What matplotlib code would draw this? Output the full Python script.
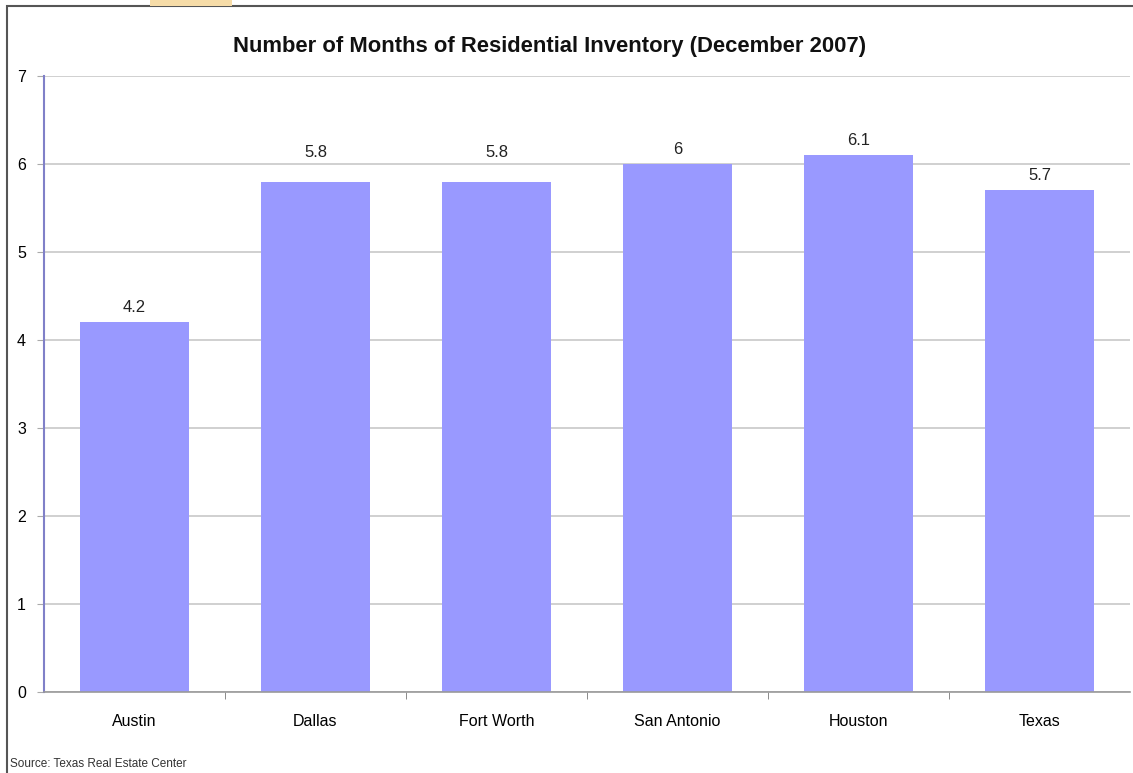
import matplotlib
matplotlib.use("Agg")
import matplotlib.pyplot as plt
from matplotlib.patches import Rectangle
import numpy as np

cities = ["Austin", "Dallas", "Fort Worth", "San Antonio", "Houston", "Texas"]
months = [4.2, 5.8, 5.8, 6, 6.1, 5.7]
value_labels = ["4.2", "5.8", "5.8", "6", "6.1", "5.7"]

plt.rcParams["font.family"] = ["Liberation Sans", "DejaVu Sans"]

fig = plt.figure(figsize=(11.33, 7.73), dpi=100)
ax = fig.add_axes([0.0388, 0.1048, 0.9586, 0.7969])

x = np.arange(len(cities))
ax.bar(x, months, width=0.6, color="#9999ff", zorder=2)

# the original sheet put the Dallas / Fort Worth labels a bit higher
label_gap = [0.08, 0.25, 0.25, 0.08, 0.08, 0.08]
for xi, val, lab, gap in zip(x, months, value_labels, label_gap):
    ax.text(xi, val + gap, lab, ha="center", va="bottom", fontsize=12, color="#222222")

ax.set_xlim(-0.5, len(cities) - 0.5)
ax.set_ylim(0, 7)
ax.set_yticks(range(0, 8))
ax.yaxis.grid(True, color="#c8c8c8", linewidth=1.2, zorder=0)
ax.set_axisbelow(True)

ax.set_xticks(x)
ax.set_xticklabels(cities, fontsize=11.5)
ax.set_xticks(np.arange(0.5, len(cities) - 0.5, 1), minor=True)
ax.tick_params(axis="x", which="major", length=0, pad=16)
ax.tick_params(axis="x", which="minor", length=5, color="#777777")
ax.tick_params(axis="y", length=5, color="#aaaaaa", labelsize=11.5, pad=8)

for side in ["top", "right"]:
    ax.spines[side].set_visible(False)
ax.spines["left"].set_color("#8080c8")
ax.spines["left"].set_linewidth(1.5)
ax.spines["bottom"].set_color("#999999")
ax.spines["bottom"].set_linewidth(1.2)

fig.text(0.485, 0.940, "Number of Months of Residential Inventory (December 2007)",
         ha="center", va="center", fontsize=15.8, fontweight="bold", color="#111111")
fig.text(0.009, 0.012, "Source: Texas Real Estate Center", ha="left", va="center",
         fontsize=8.5, color="#333333")

# outer frame and the small tab on top
fig.patches.append(Rectangle((7 / 1133, -0.01), 1.1, 1 - 6 / 773 + 0.01,
                             transform=fig.transFigure, fill=False,
                             edgecolor="#555555", linewidth=1.5))
fig.patches.append(Rectangle((150 / 1133, 1 - 6 / 773), 82 / 1133, 6 / 773,
                             transform=fig.transFigure, color="#f6dca8", linewidth=0))

fig.savefig("out.png", dpi=100)
